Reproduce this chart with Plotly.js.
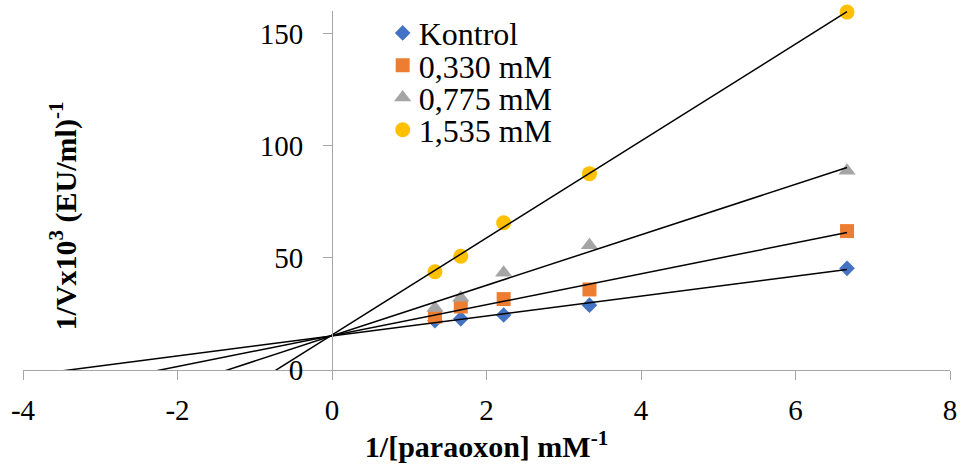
<!DOCTYPE html>
<html>
<head>
<meta charset="utf-8">
<script src="https://cdn.plot.ly/plotly-3.0.1.min.js"></script>
<style>
  html, body { margin: 0; padding: 0; background: #ffffff; }
  #chart { width: 964px; height: 470px; }
</style>
</head>
<body>
<div id="chart"></div>
<script>
// 1/[paraoxon] (mM^-1)
const xInv = [1.333, 1.667, 2.222, 3.333, 6.667];
// series names
const seriesNames = ["Kontrol", "0,330 mM", "0,775 mM", "1,535 mM"];
// 1/V x10^3 values
const kontrol = [22.0, 22.8, 24.5, 28.9, 45.3];
const c0330 = [23.8, 28.3, 31.6, 35.9, 61.9];
const c0775 = [27.6, 32.2, 43.3, 55.6, 88.8];
const c1535 = [43.8, 50.7, 65.6, 87.5, 159.5];
const xTicks = [-4, -2, 0, 2, 4, 6, 8];
const yTicks = [0, 50, 100, 150];
const trendStartX = -4;

const seriesValues = [kontrol, c0330, c0775, c1535];
const colors = ["#4472C4", "#ED7D31", "#A5A5A5", "#FFC000"];
const symbols = ["diamond", "square", "triangle-up", "circle"];
const sizes = [12, 14, 15, 15];

function linfit(x, y) {
  const n = x.length;
  const mx = x.reduce((a, b) => a + b, 0) / n;
  const my = y.reduce((a, b) => a + b, 0) / n;
  let sxy = 0, sxx = 0;
  for (let i = 0; i < n; i++) {
    sxy += (x[i] - mx) * (y[i] - my);
    sxx += (x[i] - mx) * (x[i] - mx);
  }
  const slope = sxy / sxx;
  return { slope: slope, intercept: my - slope * mx };
}

const font = "Liberation Serif, Times New Roman, serif";
const traces = [];
seriesValues.forEach((vals, i) => {
  traces.push({
    x: xInv, y: vals, type: "scatter", mode: "markers", name: seriesNames[i],
    marker: { color: colors[i], symbol: symbols[i], size: sizes[i], line: { width: 0 } },
    cliponaxis: false
  });
});
seriesValues.forEach((vals, i) => {
  const f = linfit(xInv, vals);
  const xEnd = Math.max.apply(null, xInv);
  traces.push({
    x: [trendStartX, xEnd],
    y: [f.intercept + f.slope * trendStartX, f.intercept + f.slope * xEnd],
    type: "scatter", mode: "lines", showlegend: false, hoverinfo: "skip",
    line: { color: "#000000", width: 1.5 }
  });
});

const axisColor = "#a6a6a6";
const layout = {
  width: 964, height: 470,
  margin: { l: 23, r: 14, t: 11, b: 100, autoexpand: false },
  paper_bgcolor: "#ffffff", plot_bgcolor: "#ffffff",
  font: { family: font, size: 29, color: "#000000" },
  showlegend: true,
  legend: {
    x: 0.388, y: 1.015, xanchor: "left", yanchor: "top",
    bgcolor: "rgba(0,0,0,0)", borderwidth: 0,
    font: { family: font, size: 32, color: "#000000" }
  },
  xaxis: {
    range: [-4, 8], tickvals: xTicks, ticktext: xTicks.map(String),
    showgrid: false, zeroline: false, showline: true, linecolor: axisColor, linewidth: 1,
    ticks: "outside", ticklen: 9, tickcolor: axisColor, tickwidth: 1,
    ticklabelstandoff: 5,
    tickfont: { family: font, size: 29, color: "#000000" },
    title: { text: "1/[paraoxon] mM<sup>-1</sup>", standoff: 11,
             font: { family: font, size: 30, color: "#000000", weight: "bold" } }
  },
  yaxis: {
    range: [0, 160], tickvals: yTicks, ticktext: yTicks.map(String),
    anchor: "free", position: 1 / 3,
    showgrid: false, zeroline: false, showline: true, linecolor: axisColor, linewidth: 1,
    ticks: "outside", ticklen: 9, tickcolor: axisColor, tickwidth: 1,
    ticklabelstandoff: 14,
    tickfont: { family: font, size: 29, color: "#000000" }
  },
  annotations: [{
    text: "<b>1/Vx10<sup>3</sup> (EU/ml)<sup>-1</sup></b>",
    xref: "paper", yref: "paper", x: 0.044, y: 0.43,
    xanchor: "center", yanchor: "middle", textangle: -90, showarrow: false,
    font: { family: font, size: 30, color: "#000000" }
  }]
};

const rowGap = 32.3;
Plotly.newPlot("chart", traces, layout, { displayModeBar: false, staticPlot: true }).then(gd => {
  // tighten legend row spacing to match the reference
  const items = gd.querySelectorAll(".legend .traces");
  let y0 = null;
  items.forEach((el, i) => {
    const t = el.getAttribute("transform") || "";
    const m = t.match(/translate\(([-\d.]+)[ ,]+([-\d.]+)\)/);
    if (!m) return;
    if (y0 === null) y0 = parseFloat(m[2]);
    el.setAttribute("transform", "translate(" + m[1] + "," + (y0 + i * rowGap) + ")");
    const txt = el.querySelector("text.legendtext");
    if (txt) txt.setAttribute("x", parseFloat(txt.getAttribute("x")) - 4);
  });
});
</script>
</body>
</html>
